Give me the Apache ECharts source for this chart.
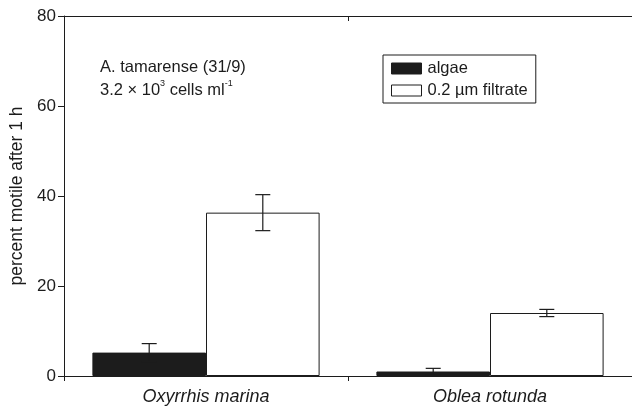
<!DOCTYPE html>
<html>
<head>
<meta charset="utf-8">
<script src="https://cdn.jsdelivr.net/npm/echarts@6/dist/echarts.min.js"></script>
<style>
html, body { margin: 0; padding: 0; background: #fff; }
#chart { width: 632px; height: 410px; }
</style>
</head>
<body>
<div id="chart"></div>
<script>
const species = ['Oxyrrhis marina', 'Oblea rotunda']
const algae = [5.2, 1.0]
const algaeErr = [2.0, 0.7]
const filtrate = [36.3, 14.0]
const filtrateErr = [4.0, 0.8]
const yTicks = [0, 20, 40, 60, 80]

const font = 'Liberation Sans, Arial, sans-serif'
const ink = '#1c1c1c'

// error bar drawn at the centre of one of the two bars in a group
function errorSeries(vals, errs, side) {
    return {
        type: 'custom',
        z: 5,
        silent: true,
        data: vals.map((v, i) => [i, v, errs[i]]),
        renderItem(params, api) {
            const cat = api.value(0), v = api.value(1), e = api.value(2)
            const band = api.size([1, 0])[0]
            const dx = side * band * 0.2
            const top = api.coord([cat, v + e])
            const bot = api.coord([cat, v - e])
            const x = top[0] + dx, cap = 7.5
            const st = {stroke: ink, lineWidth: 1.2}
            return {
                type: 'group',
                children: [
                    {type: 'line', shape: {x1: x, y1: top[1], x2: x, y2: bot[1]}, style: st},
                    {type: 'line', shape: {x1: x - cap, y1: top[1], x2: x + cap, y2: top[1]}, style: st},
                    {type: 'line', shape: {x1: x - cap, y1: bot[1], x2: x + cap, y2: bot[1]}, style: st}
                ]
            }
        }
    }
}

const chart = echarts.init(document.getElementById('chart'))
chart.setOption({
    animation: false,
    backgroundColor: '#fff',
    textStyle: {fontFamily: font},
    grid: {left: 64, right: 0, top: 16, bottom: 34},
    legend: {
        orient: 'vertical',
        left: 383,
        top: 55,
        padding: [5, 8, 4, 8],
        borderColor: ink,
        borderWidth: 1,
        itemWidth: 30,
        itemHeight: 11,
        itemGap: 5,
        icon: 'rect',
        textStyle: {fontFamily: font, fontSize: 16.5, color: ink, padding: [0, 0, 0, 1]},
        data: [
            {name: 'algae', itemStyle: {color: ink, borderColor: ink, borderWidth: 1}},
            {name: '0.2 µm filtrate', itemStyle: {color: '#fff', borderColor: ink, borderWidth: 1}}
        ]
    },
    graphic: [{
        type: 'text',
        left: 100,
        top: 56,
        style: {
            text: 'A. tamarense (31/9)\n3.2 × 10{sup|3} cells ml{sup|-1}',
            fontFamily: font,
            fontSize: 16.5,
            lineHeight: 23,
            fill: ink,
            rich: {sup: {fontSize: 9, verticalAlign: 'top', lineHeight: 13, fontFamily: font, fill: ink}}
        }
    }],
    xAxis: [{
        type: 'category',
        data: species,
        axisLine: {lineStyle: {color: ink, width: 1}},
        axisTick: {show: true, length: 5, lineStyle: {color: ink}},
        axisLabel: {fontFamily: font, fontSize: 18, fontStyle: 'italic', color: ink, margin: 12}
    }, {
        type: 'category',
        position: 'top',
        data: species,
        axisLine: {show: true, lineStyle: {color: ink, width: 1}},
        axisTick: {show: true, inside: true, length: 5, lineStyle: {color: ink}},
        axisLabel: {show: false}
    }],
    yAxis: {
        type: 'value',
        min: yTicks[0],
        max: yTicks[yTicks.length - 1],
        interval: yTicks[1] - yTicks[0],
        name: 'percent motile after 1 h',
        nameLocation: 'middle',
        nameGap: 37,
        nameTextStyle: {fontFamily: font, fontSize: 17.5, color: ink},
        axisLine: {show: true, lineStyle: {color: ink, width: 1}},
        axisTick: {show: true, length: 6, lineStyle: {color: ink}},
        axisLabel: {fontFamily: font, fontSize: 17, color: ink, margin: 8},
        splitLine: {show: false}
    },
    series: [{
        name: 'algae',
        type: 'bar',
        data: algae,
        barWidth: '40%',
        barGap: '0%',
        itemStyle: {color: ink, borderColor: ink, borderWidth: 1}
    }, {
        name: '0.2 µm filtrate',
        type: 'bar',
        data: filtrate,
        barWidth: '40%',
        barGap: '0%',
        itemStyle: {color: '#fff', borderColor: ink, borderWidth: 1}
    },
    errorSeries(algae, algaeErr, -1),
    errorSeries(filtrate, filtrateErr, 1)]
})
</script>
</body>
</html>
